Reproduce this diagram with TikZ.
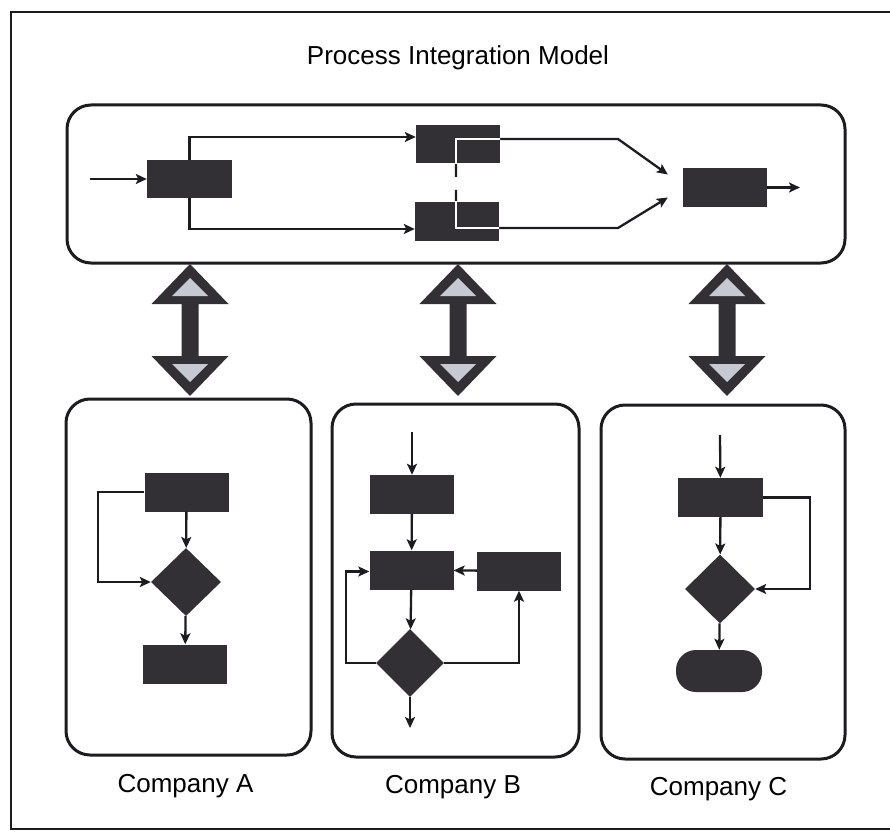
\documentclass[tikz,border=0pt]{standalone}
\usepackage{fontspec}
\setmainfont{Liberation Sans}
\usetikzlibrary{arrows.meta,shapes.geometric,positioning}
\definecolor{blockgray}{RGB}{50,48,52}
\definecolor{tipgray}{RGB}{198,200,210}
\definecolor{inkgray}{RGB}{28,28,30}

\begin{document}
\begin{tikzpicture}[x=1pt,y=-1pt,
  every node/.style={inner sep=0pt},
  lane/.style={draw=inkgray,line width=3pt,rounded corners=24pt},
  blk/.style={fill=blockgray,minimum width=84pt,minimum height=39pt},
  choice/.style={diamond,fill=blockgray,minimum width=70pt,minimum height=68pt},
  term/.style={fill=blockgray,rounded corners=20pt,minimum width=86pt,minimum height=42pt},
  flow/.style={draw=inkgray,line width=2.3pt,-{Stealth[length=11pt,width=10pt,inset=2.5pt]}},
  caption/.style={font=\fontsize{26}{30}\selectfont,anchor=base}]
\useasboundingbox (0,0) rectangle (890,834);
\draw[inkgray,line width=1.5pt] (890,12) -- (11,12) -- (11,829) -- (890,829);

% integration model
\node[caption] (title) at (458,65) {Process Integration Model};
\node[lane,minimum width=778pt,minimum height=158pt] (procBox) at (456,184) {};
\node[blk,minimum width=85pt,minimum height=38pt] (start) at (189.5,179) {};
\node[blk,minimum height=38pt] (taskU) at (458,144) {};
\node[blk] (taskL) at (457,221.5) {};
\node[blk] (finish) at (725,187.5) {};
\coordinate (in) at (90,179);
\coordinate (out) at (800,187.5);
\coordinate (upTail) at (456,177);
\coordinate (upBend) at (618,139);
\coordinate (loTail) at (456,190);
\coordinate (loBend) at (618,228);
\draw[flow] (in) -- (start.west);
\draw[flow] (start.north) |- ([yshift=7pt]taskU.west);
\draw[flow] (start.south) |- ([yshift=-7.5pt]taskL.west);
\draw[flow] (upTail) |- (upBend) -- ([shift={(-15pt,13pt)}]finish.west);
\draw[flow] (loTail) |- (loBend) -- ([shift={(-15pt,-10pt)}]finish.west);
\draw[flow] (finish.east) -- (out);
% the joining lines show white over the blocks
\begin{scope}
  \clip (taskU.south west) rectangle (taskU.north east);
  \draw[white,line width=1.8pt] (upTail) |- (upBend);
\end{scope}
\begin{scope}
  \clip (taskL.south west) rectangle (taskL.north east);
  \draw[white,line width=1.8pt] (loTail) |- (loBend);
\end{scope}

% two-way links
\foreach \x in {190,458,727} {
  \fill[blockgray] (\x,264) -- (\x+38.5,304) -- (\x+8.5,304) -- (\x+8.5,356)
    -- (\x+38.5,356) -- (\x,396) -- (\x-38.5,356) -- (\x-8.5,356)
    -- (\x-8.5,304) -- (\x-38.5,304) -- cycle;
  \fill[tipgray] (\x,278) -- (\x+18,296) -- (\x-18,296) -- cycle;
  \fill[tipgray] (\x,382) -- (\x+18,364) -- (\x-18,364) -- cycle;
}

% company A
\node[lane,minimum width=245pt,minimum height=356pt] (panelA) at (188.5,577) {};
\node[blk] (a1) at (186.5,492) {};
\node[choice] (a2) at (186,582) {};
\node[blk] (a3) at (185,664) {};
\draw[flow] (a1) -- (a2);
\draw[flow] (a2) -- (a3);
\draw[flow] (a1.west) -- (98,492) |- (a2.west);
\node[caption] (labelA) at (185.5,792) {Company A};

% company B
\node[lane,minimum width=247pt,minimum height=353pt] (panelB) at (455.5,580.5) {};
\coordinate (b0) at (412,432);
\node[blk] (b1) at (412,494.5) {};
\node[blk] (b2) at (411.5,570) {};
\node[blk] (b3) at (519,571) {};
\node[choice,minimum width=68pt] (b4) at (410,663) {};
\coordinate (b5) at (410,728);
\draw[flow] (b0) -- (b1);
\draw[flow] (b1) -- (b2);
\draw[flow] (b2) -- (b4);
\draw[flow] (b4) -- (b5);
\draw[flow] (b3) -- (b2);
\draw[flow] (b4.west) -- (346,663) |- ([yshift=-1.5pt]b2.west);
\draw[flow] (b4.east) -| (b3.south);
\node[caption] (labelB) at (453,793) {Company B};

% company C
\node[lane,minimum width=244pt,minimum height=354pt] (panelC) at (723,582) {};
\coordinate (c0) at (720,435);
\node[blk,minimum width=85pt] (c1) at (720.5,497.5) {};
\node[choice,minimum height=69pt] (c2) at (720,589) {};
\node[term] (c3) at (719,671) {};
\draw[flow] (c0) -- (c1);
\draw[flow] (c1) -- (c2);
\draw[flow] (c2) -- (c3);
\draw[flow] (c1.east) -- (810,497.5) |- (c2.east);
\node[caption] (labelC) at (718.5,795) {Company C};
\end{tikzpicture}
\end{document}
